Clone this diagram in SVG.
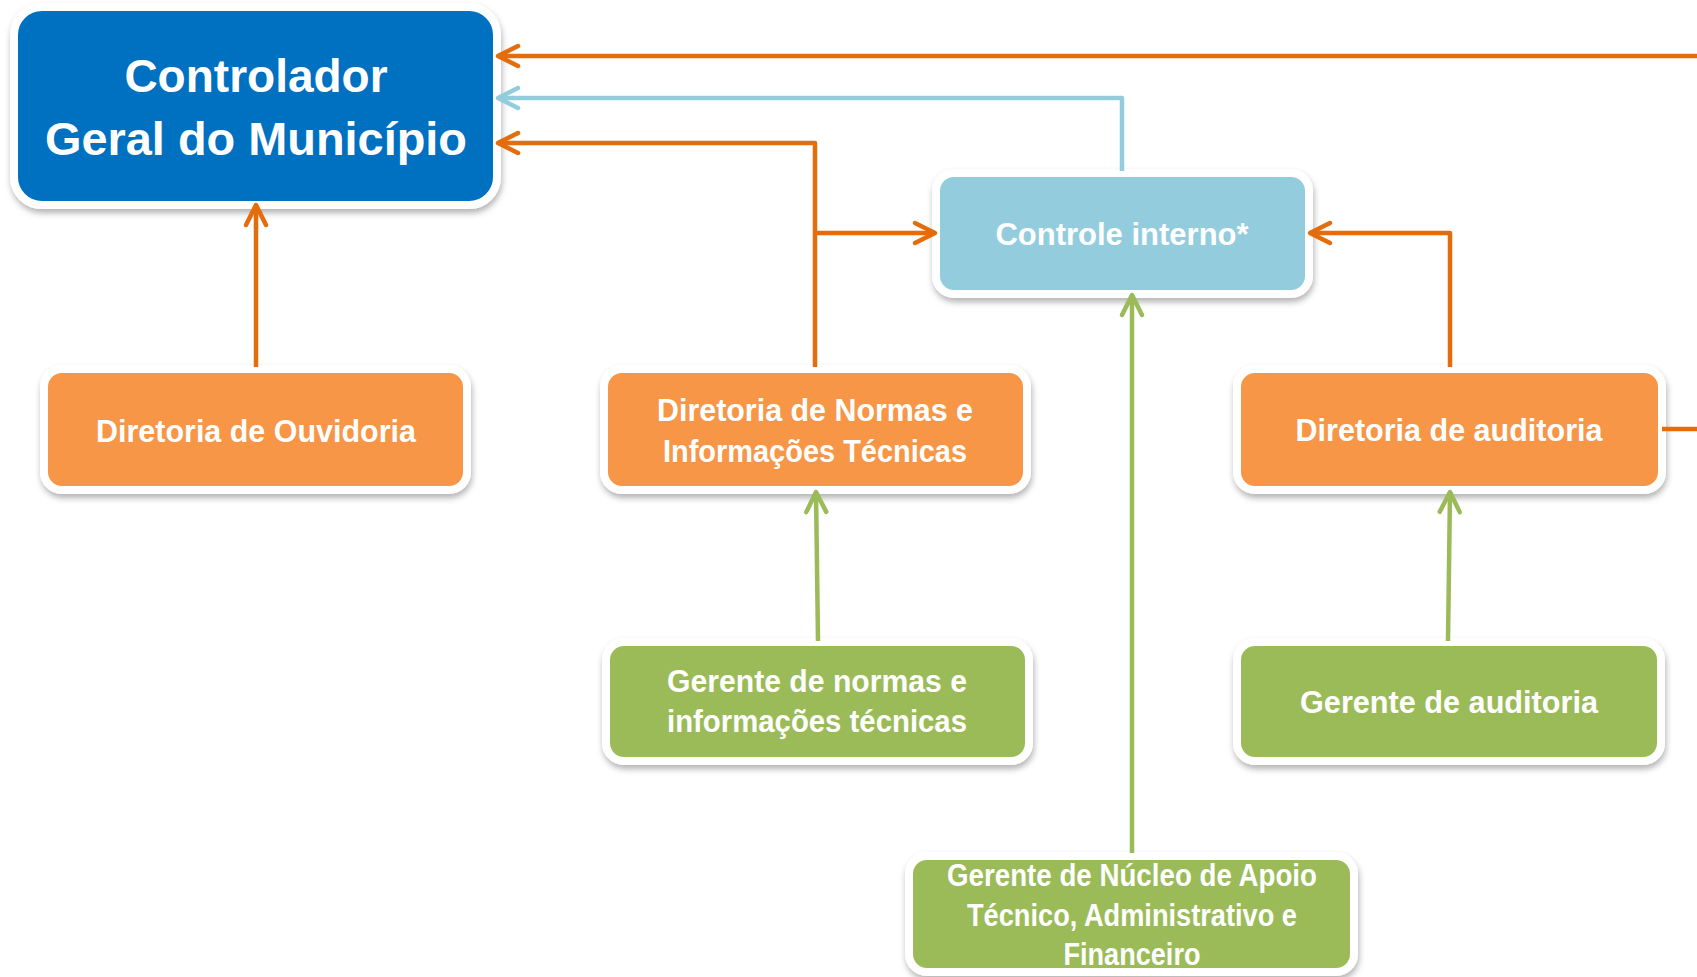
<svg xmlns="http://www.w3.org/2000/svg" width="1697" height="977" viewBox="0 0 1697 977">
<style>
.box{stroke:#FFFFFF;stroke-width:8;filter:url(#sh)}
.t{font-family:"Liberation Sans",Arial,sans-serif;font-weight:bold;fill:#FFFFFF;text-anchor:middle}
.s{font-size:31px}
.b{font-size:46px}
.ln{fill:none;stroke-width:4.5;stroke-linejoin:round}
.o{stroke:#E46C0A}
.lb{stroke:#93CDDD}
.g{stroke:#9BBB59}
</style>
<defs>
<filter id="sh" x="-10%" y="-20%" width="120%" height="150%">
<feDropShadow dx="1" dy="4" stdDeviation="3" flood-color="#000000" flood-opacity="0.3"/>
</filter>
<marker id="aO" markerUnits="userSpaceOnUse" viewBox="-26 -15 30 30" markerWidth="30" markerHeight="30" refX="0" refY="0" orient="auto">
<path d="M-20,-10 L0,0 L-20,10" fill="none" stroke="#E46C0A" stroke-width="4.5" stroke-linecap="round" stroke-linejoin="round"/>
</marker>
<marker id="aB" markerUnits="userSpaceOnUse" viewBox="-26 -15 30 30" markerWidth="30" markerHeight="30" refX="0" refY="0" orient="auto">
<path d="M-20,-10 L0,0 L-20,10" fill="none" stroke="#93CDDD" stroke-width="4.5" stroke-linecap="round" stroke-linejoin="round"/>
</marker>
<marker id="aG" markerUnits="userSpaceOnUse" viewBox="-26 -15 30 30" markerWidth="30" markerHeight="30" refX="0" refY="0" orient="auto">
<path d="M-20,-10 L0,0 L-20,10" fill="none" stroke="#9BBB59" stroke-width="4.5" stroke-linecap="round" stroke-linejoin="round"/>
</marker>
</defs>
<rect width="1697" height="977" fill="#FFFFFF"/>

<g id="controlador">
<rect class="box" x="14" y="7" width="483" height="198" rx="28" fill="#0070C0"/>
<text class="t b" x="256" y="92">Controlador</text>
<text class="t b" x="256" y="155" textLength="422" lengthAdjust="spacingAndGlyphs">Geral do Município</text>
</g>

<g id="controle-interno">
<rect class="box" x="936" y="173" width="373" height="121" rx="18" fill="#93CDDD"/>
<text class="t s" x="1122" y="245">Controle interno*</text>
</g>

<g id="diretoria-ouvidoria">
<rect class="box" x="44" y="369" width="423" height="121" rx="18" fill="#F79646"/>
<text class="t s" x="256" y="442" textLength="320" lengthAdjust="spacingAndGlyphs">Diretoria de Ouvidoria</text>
</g>

<g id="diretoria-normas">
<rect class="box" x="604" y="369" width="423" height="121" rx="18" fill="#F79646"/>
<text class="t s" x="815" y="421" textLength="316" lengthAdjust="spacingAndGlyphs">Diretoria de Normas e</text>
<text class="t s" x="815" y="462" textLength="304" lengthAdjust="spacingAndGlyphs">Informações Técnicas</text>
</g>

<g id="diretoria-auditoria">
<rect class="box" x="1237" y="369" width="425" height="121" rx="18" fill="#F79646"/>
<text class="t s" x="1449" y="441" textLength="307" lengthAdjust="spacingAndGlyphs">Diretoria de auditoria</text>
</g>

<g id="gerente-normas">
<rect class="box" x="606" y="642" width="423" height="119" rx="18" fill="#9BBB59"/>
<text class="t s" x="817" y="692" textLength="300" lengthAdjust="spacingAndGlyphs">Gerente de normas e</text>
<text class="t s" x="817" y="732" textLength="300" lengthAdjust="spacingAndGlyphs">informações técnicas</text>
</g>

<g id="gerente-auditoria">
<rect class="box" x="1237" y="642" width="424" height="119" rx="18" fill="#9BBB59"/>
<text class="t s" x="1449" y="713" textLength="298" lengthAdjust="spacingAndGlyphs">Gerente de auditoria</text>
</g>

<g id="gerente-nucleo">
<rect class="box" x="909" y="856" width="445" height="116" rx="18" fill="#9BBB59"/>
<text class="t s" x="1132" y="886" textLength="370" lengthAdjust="spacingAndGlyphs">Gerente de Núcleo de Apoio</text>
<text class="t s" x="1132" y="926" textLength="330" lengthAdjust="spacingAndGlyphs">Técnico, Administrativo e</text>
<text class="t s" x="1132" y="965" textLength="137" lengthAdjust="spacingAndGlyphs">Financeiro</text>
</g>

<g id="connectors">
<path class="ln o" d="M1697,56 H498" marker-end="url(#aO)"/>
<path class="ln lb" d="M1122,171 V98 H498" marker-end="url(#aB)"/>
<path class="ln o" d="M815,367 V143 H498" marker-end="url(#aO)"/>
<path class="ln o" d="M815,233 H935" marker-end="url(#aO)"/>
<path class="ln o" d="M1450,367 V233 H1310" marker-end="url(#aO)"/>
<path class="ln o" d="M256,367 V205" marker-end="url(#aO)"/>
<path class="ln o" d="M1662,429 H1697"/>
<path class="ln g" d="M818,641 L816,492" marker-end="url(#aG)"/>
<path class="ln g" d="M1448,641 L1450,492" marker-end="url(#aG)"/>
<path class="ln g" d="M1132,853 V295" marker-end="url(#aG)"/>
</g>
</svg>
